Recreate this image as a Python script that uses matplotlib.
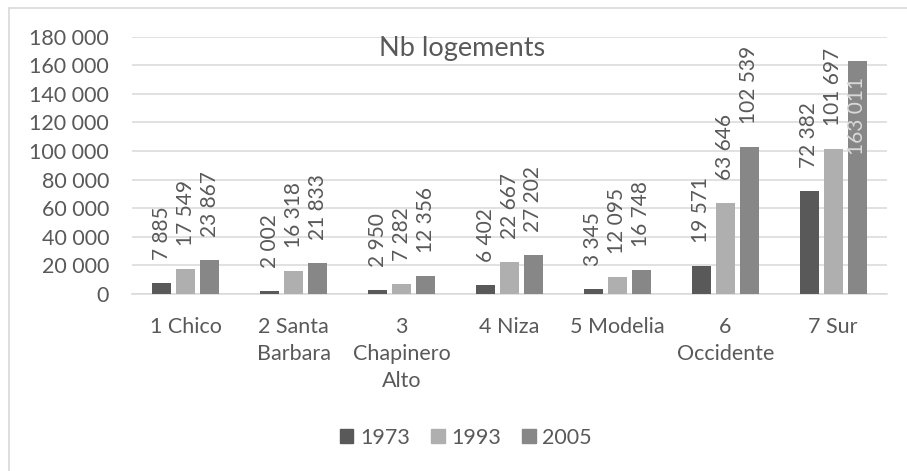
import numpy as np
import matplotlib
matplotlib.use("Agg")
import matplotlib.pyplot as plt
from matplotlib.lines import Line2D
from matplotlib.patches import Rectangle

# police proche de Calibri
plt.rcParams['font.family'] = ['Lato', 'DejaVu Sans']

# 1. données
categories = ["1 Chico", "2 Santa\nBarbara", "3\nChapinero\nAlto", "4 Niza",
              "5 Modelia", "6\nOccidente", "7 Sur"]
years = ["1973", "1993", "2005"]
v1973 = [7885, 2002, 2950, 6402, 3345, 19571, 72382]
v1993 = [17549, 16318, 7282, 22667, 12095, 63646, 101697]
v2005 = [23867, 21833, 12356, 27202, 16748, 102539, 163011]
yticks = list(range(0, 180001, 20000))

colors = ["#595959", "#afafaf", "#878787"]
text_col = "#595959"
grid_col = "#d9d9d9"

# 2. figure
W, H = 907, 471
fig = plt.figure(figsize=(W / 100, H / 100), dpi=100)
ax = fig.add_axes([132 / W, 1 - 294 / H, 755 / W, (294 - 36.7) / H])

x = np.arange(len(categories))
width = 19 / 108
step = 24 / 108
series = [v1973, v1993, v2005]

for i, vals in enumerate(series):
    xs = x + (i - 1) * step
    ax.bar(xs, vals, width=width, color=colors[i], zorder=3)
    for xv, v in zip(xs, vals):
        lab = f"{v:,}".replace(",", " ")
        if v > 0.8 * 180000:
            # étiquette à l'intérieur de la barre
            ax.annotate(lab, (xv, v), xytext=(0, -16), textcoords="offset pixels",
                        rotation=90, ha="center", va="top", fontsize=15,
                        color="#d9d9d9", zorder=4)
        else:
            ax.annotate(lab, (xv, v), xytext=(0, 23), textcoords="offset pixels",
                        rotation=90, ha="center", va="bottom", fontsize=15,
                        color=text_col, zorder=4)

ax.set_xlim(-0.5, len(categories) - 0.5)
ax.set_ylim(0, 180000)
ax.set_yticks(yticks)
ax.set_yticklabels([f"{v:,}".replace(",", " ") for v in yticks])
ax.set_xticks(x)
ax.set_xticklabels(categories, linespacing=1.45)
ax.tick_params(axis="both", length=0, pad=16.5, labelsize=15.5, labelcolor=text_col)
ax.yaxis.grid(True, color=grid_col, linewidth=1.1, zorder=0)
for s in ["top", "right", "left"]:
    ax.spines[s].set_visible(False)
ax.spines["bottom"].set_color(grid_col)
ax.spines["bottom"].set_linewidth(1.1)

# titre
fig.text(462.5 / W, 1 - 56 / H, "Nb logements", ha="center", va="baseline",
         fontsize=19.5, color=text_col)

# légende
handles = [Rectangle((0, 0), 1, 1, color=c) for c in colors]
fig.legend(handles, years, loc="center", bbox_to_anchor=(466 / W, 1 - 437.5 / H),
           ncol=3, frameon=False, fontsize=15.5, labelcolor=text_col,
           handlelength=0.62, handleheight=0.62, handletextpad=0.3,
           columnspacing=1.0)

# bord du graphique (gauche et haut)
fig.add_artist(Line2D([8.5 / W, 8.5 / W], [0, 1 - 7.5 / H], transform=fig.transFigure,
                      color=grid_col, linewidth=1.2))
fig.add_artist(Line2D([8.5 / W, 1], [1 - 7.5 / H, 1 - 7.5 / H], transform=fig.transFigure,
                      color=grid_col, linewidth=1.2))

fig.savefig("out.png", dpi=100)
